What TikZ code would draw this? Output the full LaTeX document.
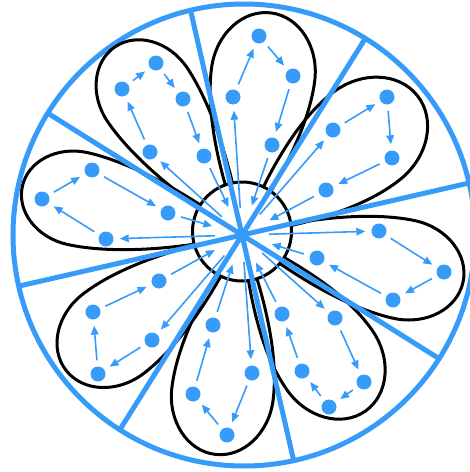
\documentclass[tikz,border=0pt]{standalone}
\usetikzlibrary{arrows.meta}
\definecolor{bl}{RGB}{55,155,250}
\tikzset{
  dot/.style={circle, fill=bl, inner sep=0pt, minimum size=15pt},
  arr/.style={draw=bl, line width=1.6pt, -{Triangle[length=9pt,width=7.5pt]}, shorten >=6pt, shorten <=6pt},
  petalline/.style={draw=black, line width=3pt},
  spoke/.style={draw=bl, line width=5pt},
  rim/.style={draw=bl, line width=5pt},
  hub/.style={draw=black, fill=white, line width=3pt},
}
\newcommand{\petalshape}[3]{%
  \draw[petalline, shift={(242,235)}, rotate=#1] (0,0) .. controls (58,{0.6*#3}) and ({#2-1.2*#3-45},#3) .. ({#2-1.2*#3},#3) arc[start angle=90, end angle=-90, x radius={1.2*#3}, y radius=#3] .. controls ({#2-1.2*#3-45},{-#3}) and (58,{-0.6*#3}) .. (0,0);}
\begin{document}
\begin{tikzpicture}[x=1pt,y=-1pt]
\useasboundingbox (0,0) rectangle (470,472);
\coordinate (c) at (242,235);
\coordinate (o) at (244,235);
% rim
\draw[rim] (o) circle[radius=231];
% petals
\petalshape{124}{227}{48}
\petalshape{82.5}{224}{52}
\petalshape{38.5}{224}{55}
\petalshape{-12}{226}{50}
\petalshape{-55}{215}{52}
\petalshape{-97}{221}{51}
\petalshape{217.5}{222}{50}
\petalshape{167.5}{225}{47}
% hub
\draw[hub] (242,231.5) circle[radius=49.5];
% spokes
\foreach \a [count=\i] in {12.9,57.9,102.9,147.9,192.9,237.9,282.9,327.9}{
  \path (c) ++(-\a:{231+2*cos(\a)}) coordinate (r\i);
  \draw[spoke] (c) -- (r\i);
}
% dots
\foreach \n/\x/\y in {A1/150/152, A2/122/89, A3/156/63, A4/183/99, A5/204/156,
  B1/233/97, B2/259/36, B3/293/76, B4/272/145,
  C1/333/130, C2/387/97, C3/392/158, C4/326/190,
  D1/379/231, D2/444/272, D3/393/300, D4/317/258,
  E1/335/318, E2/364/382, E3/329/407, E4/302/371, E5/282/314,
  F1/252/373, F2/227/435, F3/193/394, F4/213/325,
  G1/152/340, G2/98/374, G3/93/312, G4/159/281,
  H1/106/239, H2/42/199, H3/92/170, H4/168/213}
  \node[dot] (\n) at (\x,\y) {};
% arrows between dots
\foreach \p/\q in {A1/A2, A2/A3, A3/A4, A4/A5,
  B1/B2, B2/B3, B3/B4,
  C1/C2, C2/C3, C3/C4,
  D1/D2, D2/D3, D3/D4,
  E1/E2, E2/E3, E3/E4, E4/E5,
  F1/F2, F2/F3, F3/F4,
  G1/G2, G2/G3, G3/G4,
  H1/H2, H2/H3, H3/H4}
  \draw[arr] (\p) -- (\q);
% arrows from and to the hub
\foreach \q in {A1,B1,C1,D1,E1,F1,G1,H1}
  \draw[arr, shorten <=27pt] (c) -- (\q);
\foreach \p in {A5,B4,C4,D4,E5,F4,G4,H4}
  \draw[arr, shorten >=31pt] (\p) -- (c);
\end{tikzpicture}
\end{document}
